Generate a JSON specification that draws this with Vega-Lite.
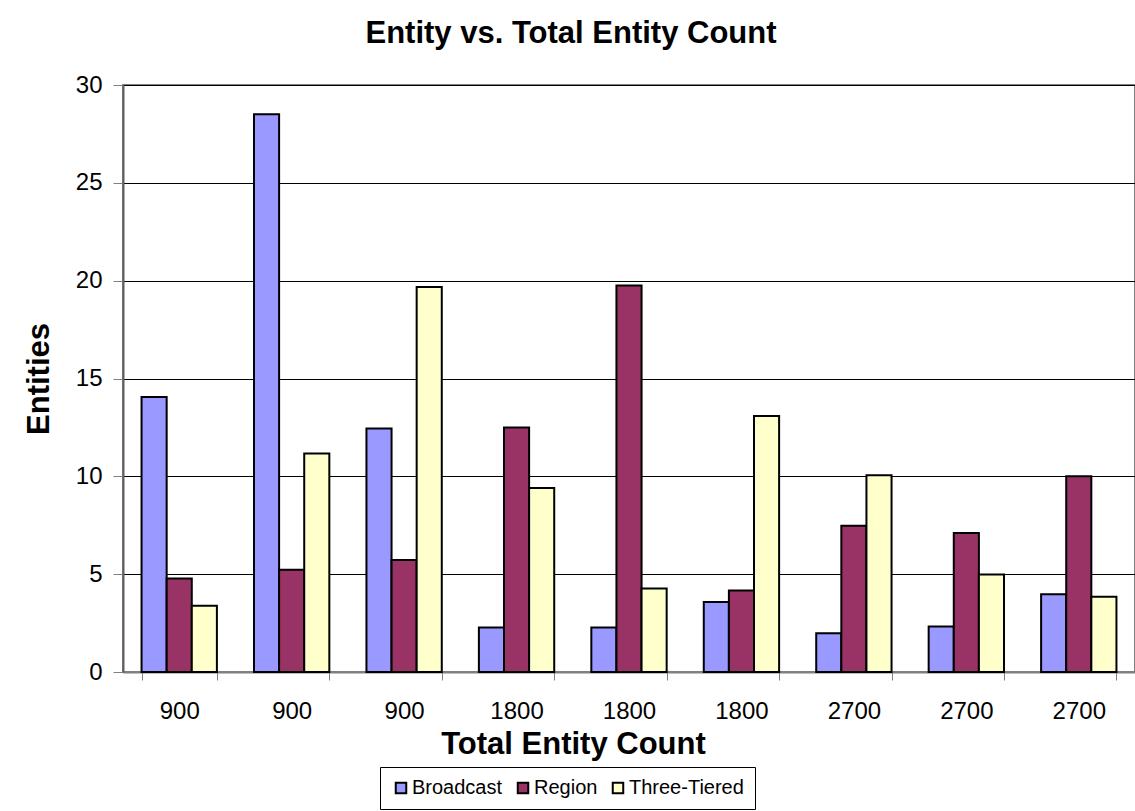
{
  "$schema": "https://vega.github.io/schema/vega-lite/v6.json",
  "width": 1012,
  "height": 587,
  "autosize": {"type": "none"},
  "padding": {"left": 123, "top": 85, "right": 0, "bottom": 139},
  "background": "white",
  "title": {
    "text": "Entity vs. Total Entity Count",
    "font": "Liberation Sans",
    "fontSize": 31,
    "fontWeight": "bold",
    "color": "black",
    "anchor": "middle",
    "dx": -58,
    "offset": 23
  },
  "data": {
    "values": [
      {"run": "r1", "series": "Broadcast", "entities": 14.05},
      {"run": "r1", "series": "Region", "entities": 4.78},
      {"run": "r1", "series": "Three-Tiered", "entities": 3.38},
      {"run": "r2", "series": "Broadcast", "entities": 28.5},
      {"run": "r2", "series": "Region", "entities": 5.22},
      {"run": "r2", "series": "Three-Tiered", "entities": 11.17},
      {"run": "r3", "series": "Broadcast", "entities": 12.45},
      {"run": "r3", "series": "Region", "entities": 5.72},
      {"run": "r3", "series": "Three-Tiered", "entities": 19.68},
      {"run": "r4", "series": "Broadcast", "entities": 2.27},
      {"run": "r4", "series": "Region", "entities": 12.5},
      {"run": "r4", "series": "Three-Tiered", "entities": 9.4},
      {"run": "r5", "series": "Broadcast", "entities": 2.27},
      {"run": "r5", "series": "Region", "entities": 19.75},
      {"run": "r5", "series": "Three-Tiered", "entities": 4.27},
      {"run": "r6", "series": "Broadcast", "entities": 3.58},
      {"run": "r6", "series": "Region", "entities": 4.17},
      {"run": "r6", "series": "Three-Tiered", "entities": 13.08},
      {"run": "r7", "series": "Broadcast", "entities": 1.98},
      {"run": "r7", "series": "Region", "entities": 7.48},
      {"run": "r7", "series": "Three-Tiered", "entities": 10.05},
      {"run": "r8", "series": "Broadcast", "entities": 2.33},
      {"run": "r8", "series": "Region", "entities": 7.1},
      {"run": "r8", "series": "Three-Tiered", "entities": 4.98},
      {"run": "r9", "series": "Broadcast", "entities": 3.97},
      {"run": "r9", "series": "Region", "entities": 10.0},
      {"run": "r9", "series": "Three-Tiered", "entities": 3.85}
    ]
  },
  "mark": {"type": "bar", "stroke": "black", "strokeWidth": 2},
  "encoding": {
    "x": {
      "field": "run",
      "type": "nominal",
      "scale": {"paddingInner": 0.33, "paddingOuter": 0.165},
      "axis": {
        "title": "Total Entity Count",
        "titleFont": "Liberation Sans",
        "titleFontSize": 31,
        "titleFontWeight": "bold",
        "titleColor": "black",
        "titlePadding": 6,
        "titleX": 450,
        "labelAngle": 0,
        "labelFont": "Liberation Sans",
        "labelFontSize": 24,
        "labelColor": "black",
        "labelPadding": 19,
        "labelExpr": "{'r1':'900','r2':'900','r3':'900','r4':'1800','r5':'1800','r6':'1800','r7':'2700','r8':'2700','r9':'2700'}[datum.value]",
        "tickBand": "extent",
        "tickSize": 8,
        "tickColor": "#808080",
        "domainColor": "#808080",
        "domainWidth": 2,
        "grid": false
      }
    },
    "xOffset": {
      "field": "series",
      "type": "nominal",
      "scale": {"paddingInner": 0, "paddingOuter": 0}
    },
    "y": {
      "field": "entities",
      "type": "quantitative",
      "scale": {"domain": [0, 30], "nice": false},
      "axis": {
        "title": "Entities",
        "titleFont": "Liberation Sans",
        "titleFontSize": 31,
        "titleFontWeight": "bold",
        "titleColor": "black",
        "titlePadding": 20,
        "values": [0, 5, 10, 15, 20, 25, 30],
        "labelFont": "Liberation Sans",
        "labelFontSize": 24,
        "labelColor": "black",
        "labelPadding": 11,
        "tickSize": 10,
        "tickColor": "#808080",
        "domainColor": "#606060",
        "domainWidth": 2,
        "grid": true,
        "gridColor": "black"
      }
    },
    "color": {
      "field": "series",
      "type": "nominal",
      "scale": {
        "domain": ["Broadcast", "Region", "Three-Tiered"],
        "range": ["#9999FF", "#993366", "#FFFFCC"]
      },
      "legend": {
        "title": null,
        "orient": "none",
        "direction": "horizontal",
        "legendX": 257,
        "legendY": 682,
        "symbolType": "square",
        "symbolSize": 110,
        "symbolStrokeColor": "black",
        "symbolStrokeWidth": 2,
        "symbolOpacity": 1,
        "labelFont": "Liberation Sans",
        "labelFontSize": 20,
        "labelColor": "black",
        "labelOffset": 1,
        "columnPadding": 10,
        "padding": 11,
        "strokeColor": "black",
        "fillColor": "white"
      }
    }
  },
  "config": {
    "view": {"stroke": "#808080", "strokeWidth": 2}
  }
}
